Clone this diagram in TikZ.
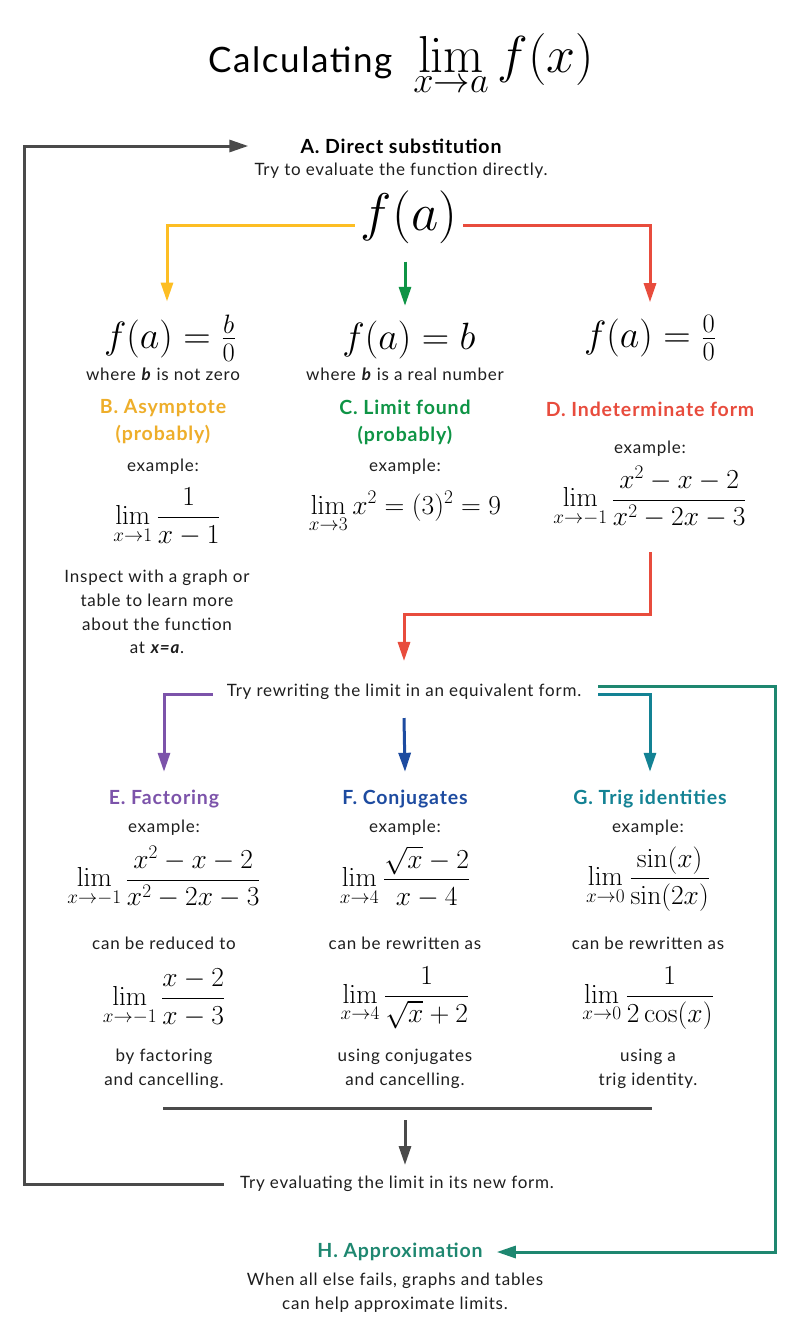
\RequirePackage{fix-cm}
\documentclass[tikz,border=0pt]{standalone}
\usepackage{amsmath}
\usepackage[no-math]{fontspec}
\setmainfont{Lato}[LetterSpace=4.5]
\usetikzlibrary{arrows.meta}
\definecolor{txt}{HTML}{1E1E1E}
\definecolor{cgray}{HTML}{4A4A4A}
\definecolor{cylwl}{HTML}{FDBE23}
\definecolor{cylw}{HTML}{EEAE2A}
\definecolor{cgrn}{HTML}{0E9445}
\definecolor{cred}{HTML}{E84C3D}
\definecolor{cpur}{HTML}{7C53AA}
\definecolor{cblu}{HTML}{1D4BA0}
\definecolor{cteal}{HTML}{138294}
\definecolor{chgr}{HTML}{1E8770}
\tikzset{
  body/.style={font=\fontsize{17}{23.7}\selectfont, align=center, inner sep=0pt, text=txt},
  head/.style={font=\fontsize{19.5}{27}\selectfont\bfseries, align=center, inner sep=0pt},
  mth/.style={font=\fontsize{27.5}{30}\selectfont, inner sep=0pt, text=black},
  mthb/.style={font=\fontsize{38}{40}\selectfont, inner sep=0pt, text=black},
  conn/.style={line width=3pt, -{Triangle[length=19pt,width=12pt]}},
  plain/.style={line width=3pt}
}
\begin{document}
\begin{tikzpicture}[x=1pt,y=-1pt]
\useasboundingbox[fill=white] (0,0) rectangle (800,1342);
% title
\node[inner sep=0pt] (title) at (401,64) {\fontsize{35}{40}\selectfont Calculating\ \ \fontsize{52}{56}\selectfont$\displaystyle\lim_{x\to a} f(x)$};
% A
\node[head, text=black] (ahead) at (401,146) {A. Direct substitution};
\node[body] (adesc) at (401,171) {Try to evaluate the function directly.};
\node[inner sep=0pt, font=\fontsize{53}{56}\selectfont] (fa) at (409,217) {$f(a)$};
% three cases
\node[mthb] (fb) at (170,338) {$f(a)=\frac{b}{0}$};
\node[mthb] (fc) at (409,340) {$f(a)=b$};
\node[mthb] (fd) at (650,338) {$f(a)=\frac{0}{0}$};
\node[body] (bwhere) at (163,374) {where \textbf{\textit{b}} is not zero};
\node[body] (cwhere) at (405,374) {where \textbf{\textit{b}} is a real number};
\node[head, text=cylw] (bhead) at (163,422) {B. Asymptote\\(probably)};
\node[head, text=cgrn] (chead) at (405,422) {C. Limit found\\(probably)};
\node[head, text=cred] (dhead) at (650,409) {D. Indeterminate form};
\node[body] (bex) at (163,467) {example:};
\node[body] (cex) at (405,467) {example:};
\node[body] (dex) at (650,449) {example:};
\node[mth] (bform) at (167,517) {$\displaystyle\lim_{x\to 1}\frac{1}{x-1}$};
\node[mth] (cform) at (405,512) {$\displaystyle\lim_{x\to 3}x^2=(3)^2=9$};
\node[mth] (dform) at (650,497) {$\displaystyle\lim_{x\to -1}\frac{x^2-x-2}{x^2-2x-3}$};
\node[body] (binspect) at (157,612) {Inspect with a graph or\\table to learn more\\about the function\\at \textbf{\textit{x=a}}.};
% rewrite
\node[body] (rewrite) at (404,692) {Try rewriting the limit in an equivalent form.};
\node[head, text=cpur] (ehead) at (164,799) {E. Factoring};
\node[head, text=cblu] (fhead) at (405,799) {F. Conjugates};
\node[head, text=cteal] (ghead) at (650,799) {G. Trig identities};
\node[body] (eex) at (164,828) {example:};
\node[body] (fex) at (405,828) {example:};
\node[body] (gex) at (648,828) {example:};
\node[mth] (eform) at (164,877) {$\displaystyle\lim_{x\to -1}\frac{x^2-x-2}{x^2-2x-3}$};
\node[mth] (fform) at (405,877) {$\displaystyle\lim_{x\to 4}\frac{\sqrt{x}-2}{x-4}$};
\node[mth] (gform) at (648,879) {$\displaystyle\lim_{x\to 0}\frac{\sin(x)}{\sin(2x)}$};
\node[body] (ecan) at (164,943) {can be reduced to};
\node[body] (fcan) at (405,943) {can be rewritten as};
\node[body] (gcan) at (648,943) {can be rewritten as};
\node[mth] (eform2) at (164,998) {$\displaystyle\lim_{x\to -1}\frac{x-2}{x-3}$};
\node[mth] (fform2) at (405,998) {$\displaystyle\lim_{x\to 4}\frac{1}{\sqrt{x}+2}$};
\node[mth] (gform2) at (648,998) {$\displaystyle\lim_{x\to 0}\frac{1}{2\cos(x)}$};
\node[body] (eby) at (164,1069) {by factoring\\and cancelling.};
\node[body] (fby) at (405,1069) {using conjugates\\and cancelling.};
\node[body] (gby) at (648,1069) {using a\\trig identity.};
% evaluate again
\coordinate (barL) at (163,1108);
\coordinate (barR) at (652,1108);
\coordinate (barM) at (405,1108);
\node[body] (tryeval) at (397,1184) {Try evaluating the limit in its new form.};
\node[head, text=chgr] (hhead) at (400,1252) {H. Approximation};
\node[body] (hdesc) at (395,1293) {When all else fails, graphs and tables\\can help approximate limits.};
\coordinate (loopx) at (24,0);
% connectors
\draw[conn, cylwl] ([xshift=-6pt,yshift=-8pt]fa.west) -| ([xshift=-3pt,yshift=13pt]fb.north);
\draw[conn, cgrn] ([xshift=-4pt,yshift=-18pt]fa.south) -- ([xshift=-4pt,yshift=15pt]fc.north);
\draw[conn, cred] ([xshift=6pt,yshift=-8pt]fa.east) -| ([yshift=13pt]fd.north);
\draw[conn, cred] ([yshift=-24pt]dform.south) -- ++(0,62) -| ([yshift=23pt]rewrite.north);
\draw[conn, cpur] ([xshift=-14pt,yshift=-2pt]rewrite.west) -| ([yshift=18pt]ehead.north);
\draw[conn, cblu] ([yshift=-18pt]rewrite.south) -- ([yshift=18pt]fhead.north);
\draw[conn, cteal] ([xshift=17pt,yshift=-2pt]rewrite.east) -| ([yshift=18pt]ghead.north);
\draw[conn, chgr] ([xshift=17pt,yshift=6pt]rewrite.east) -- ++(177,0) |- ([xshift=14pt]hhead.east);
\draw[plain, cgray] (barL) -- (barR);
\draw[conn, cgray] ([yshift=-12pt]barM) -- ([yshift=11pt]tryeval.north -| barM);
\draw[conn, cgray] ([xshift=-16pt]tryeval.west) -- (tryeval.west -| loopx) -- (ahead.west -| loopx) -- ([xshift=-52pt]ahead.west);
\end{tikzpicture}
\end{document}
